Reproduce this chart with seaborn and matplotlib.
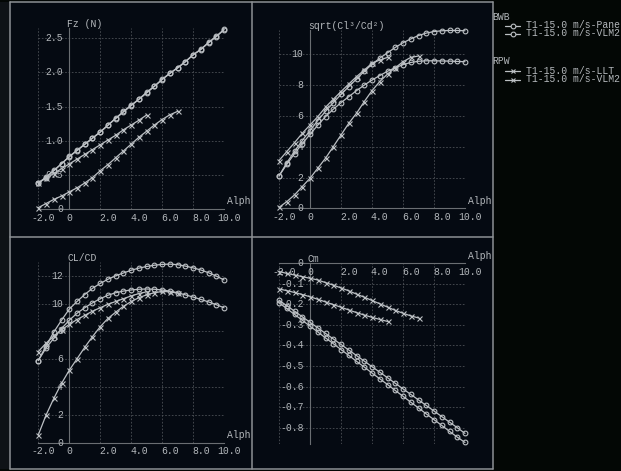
import numpy as np
import pandas as pd
import matplotlib
matplotlib.use('Agg')
import matplotlib.pyplot as plt
from matplotlib.lines import Line2D
from matplotlib.patches import Rectangle
from matplotlib.transforms import Bbox, TransformedBbox
import seaborn as sns

# angulos de ataque
alpha_bwb = [-2.0, -1.5, -1.0, -0.5, 0.0, 0.5, 1.0, 1.5, 2.0, 2.5, 3.0, 3.5, 4.0,
             4.5, 5.0, 5.5, 6.0, 6.5, 7.0, 7.5, 8.0, 8.5, 9.0, 9.5, 10.0]
alpha_llt = [-2.0, -1.5, -1.0, -0.5, 0.0, 0.5, 1.0, 1.5, 2.0, 2.5, 3.0, 3.5, 4.0,
             4.5, 5.0]
alpha_vlm = [-2.0, -1.5, -1.0, -0.5, 0.0, 0.5, 1.0, 1.5, 2.0, 2.5, 3.0, 3.5, 4.0,
             4.5, 5.0, 5.5, 6.0, 6.5, 7.0]

# Fz (N)
fz_panel = [0.385, 0.46, 0.56, 0.66, 0.77, 0.86, 0.95, 1.04, 1.13, 1.23, 1.33, 1.43, 1.52,
            1.61, 1.71, 1.80, 1.90, 1.99, 2.07, 2.16, 2.26, 2.34, 2.44, 2.53, 2.63]
fz_vlm_bwb = [0.375, 0.47, 0.565, 0.665, 0.765, 0.855, 0.945, 1.035, 1.125, 1.225, 1.325, 1.42, 1.515,
              1.605, 1.70, 1.795, 1.895, 1.985, 2.065, 2.155, 2.255, 2.335, 2.435, 2.525, 2.625]
fz_llt = [0.385, 0.45, 0.52, 0.59, 0.66, 0.73, 0.80, 0.87, 0.94, 1.01, 1.08, 1.16, 1.23,
          1.30, 1.377]
fz_vlm_rpw = [0.02, 0.08, 0.14, 0.19, 0.25, 0.31, 0.38, 0.46, 0.56, 0.65, 0.75, 0.85, 0.95,
              1.05, 1.14, 1.23, 1.31, 1.38, 1.43]

# sqrt(Cl^3/Cd^2)
sq_panel = [2.1, 2.95, 3.7, 4.4, 5.05, 5.7, 6.3, 6.85, 7.4, 7.9, 8.4, 8.9, 9.35,
            9.75, 10.1, 10.45, 10.75, 11.0, 11.22, 11.38, 11.48, 11.53, 11.55, 11.55, 11.53]
sq_vlm_bwb = [2.1, 2.85, 3.55, 4.2, 4.8, 5.4, 5.95, 6.43, 6.86, 7.25, 7.64, 8.0, 8.33,
              8.62, 8.9, 9.13, 9.33, 9.47, 9.55, 9.58, 9.58, 9.57, 9.56, 9.54, 9.52]
sq_llt = [3.1, 3.68, 4.26, 4.87, 5.41, 5.95, 6.56, 7.08, 7.58, 8.07, 8.55, 8.98, 9.42,
          9.63, 9.8]
sq_vlm_rpw = [0.06, 0.43, 0.87, 1.41, 1.95, 2.6, 3.25, 4.0, 4.76, 5.52, 6.17, 6.93, 7.64,
              8.23, 8.72, 9.13, 9.52, 9.8, 9.89]

# CL/CD
cd_panel = [5.9, 6.95, 7.95, 8.8, 9.6, 10.15, 10.65, 11.1, 11.45, 11.75, 12.0, 12.2, 12.4,
            12.55, 12.67, 12.76, 12.82, 12.84, 12.8, 12.7, 12.57, 12.42, 12.22, 11.98, 11.7]
cd_vlm_bwb = [5.9, 6.8, 7.5, 8.2, 8.8, 9.3, 9.7, 10.05, 10.35, 10.6, 10.78, 10.9, 10.98,
              11.03, 11.05, 11.03, 10.98, 10.9, 10.78, 10.63, 10.47, 10.3, 10.12, 9.92, 9.7]
cd_llt = [6.55, 7.15, 7.65, 8.1, 8.5, 8.85, 9.15, 9.45, 9.7, 9.95, 10.15, 10.35, 10.55,
          10.72, 10.85]
cd_vlm_rpw = [0.55, 1.97, 3.17, 4.25, 5.2, 6.02, 6.85, 7.62, 8.33, 8.93, 9.38, 9.8, 10.15,
              10.42, 10.63, 10.78, 10.87, 10.85, 10.75]

# Cm
cm_panel = [-0.180, -0.206, -0.233, -0.260, -0.287, -0.314, -0.341, -0.368, -0.395, -0.422,
            -0.449, -0.476, -0.503, -0.530, -0.557, -0.584, -0.611, -0.638, -0.665, -0.692,
            -0.719, -0.746, -0.773, -0.800, -0.828]
cm_vlm_bwb = [-0.192, -0.220, -0.249, -0.277, -0.306, -0.334, -0.363, -0.391, -0.420, -0.448,
              -0.477, -0.505, -0.534, -0.562, -0.590, -0.619, -0.647, -0.676, -0.704, -0.733,
              -0.761, -0.789, -0.818, -0.846, -0.872]
cm_llt = [-0.125, -0.133, -0.142, -0.152, -0.163, -0.175, -0.188, -0.201, -0.214, -0.227,
          -0.240, -0.252, -0.263, -0.273, -0.283]
cm_vlm_rpw = [-0.040, -0.049, -0.057, -0.065, -0.073, -0.081, -0.094, -0.106, -0.120, -0.134,
              -0.150, -0.165, -0.181, -0.197, -0.213, -0.229, -0.243, -0.256, -0.266]

x_ticks = [-2, 0, 2, 4, 6, 8, 10]
x_labels = ['-2.0', '0', '2.0', '4.0', '6.0', '8.0', '10.0']

W, H = 621, 471
fundo = '#030705'
fundo_painel = '#050a12'
cor_borda = '#8c9094'
cor_linha = '#bcc0c4'
cor_texto = '#b4b8bc'

sns.set_style('dark')
plt.rcParams['font.family'] = ['Liberation Mono', 'DejaVu Sans Mono']
plt.rcParams['font.size'] = 7


def fx(px):
    return px / W


def fy(py):
    return 1 - py / H


fig = plt.figure(figsize=(W / 100, H / 100), dpi=100, facecolor=fundo)

# fundo dos paineis e bordas
fig.add_artist(Rectangle((0, fy(469)), fx(10), fy(2) - fy(469), transform=fig.transFigure,
                         facecolor='#0e1216', edgecolor='none', zorder=0))
fig.add_artist(Rectangle((fx(10), fy(469)), fx(493) - fx(10), fy(2) - fy(469),
                         transform=fig.transFigure, facecolor=fundo_painel, edgecolor='none', zorder=0))
for px in [10, 252, 493]:
    fig.add_artist(Line2D([fx(px), fx(px)], [fy(2), fy(469)], transform=fig.transFigure,
                          color=cor_borda, lw=1.1, zorder=1))
for py in [2, 237, 469]:
    fig.add_artist(Line2D([fx(10), fx(493)], [fy(py), fy(py)], transform=fig.transFigure,
                          color=cor_borda, lw=1.1, zorder=1))

series_nomes = ['BWB-Panel', 'BWB-VLM2', 'RPW-LLT', 'RPW-VLM2']
marcadores = {'BWB-Panel': 'o', 'BWB-VLM2': 'o', 'RPW-LLT': 'x', 'RPW-VLM2': 'x'}
alphas = {'BWB-Panel': alpha_bwb, 'BWB-VLM2': alpha_bwb, 'RPW-LLT': alpha_llt, 'RPW-VLM2': alpha_vlm}

paineis = [
    # titulo, dados, ylim, yticks, ylabels, rect em pixels (x0, x1, y_top, y_bottom), caixa do painel
    ('Fz (N)', [fz_panel, fz_vlm_bwb, fz_llt, fz_vlm_rpw], (0, 2.65),
     [0, 0.5, 1.0, 1.5, 2.0, 2.5], ['0', '0.5', '1.0', '1.5', '2.0', '2.5'],
     (38.3, 224.0, 28.1, 209.0), (10, 252, 2, 237)),
    ('sqrt(Cl³/Cd²)', [sq_panel, sq_vlm_bwb, sq_llt, sq_vlm_rpw], (0, 11.6),
     [0, 2, 4, 6, 8, 10], ['0', '2', '4', '6', '8', '10'],
     (279.0, 465.0, 29.7, 208.3), (252, 493, 2, 237)),
    ('CL/CD', [cd_panel, cd_vlm_bwb, cd_llt, cd_vlm_rpw], (0, 13.0),
     [0, 2, 4, 6, 8, 10, 12], ['0', '2', '4', '6', '8', '10', '12'],
     (38.3, 224.0, 261.9, 442.5), (10, 252, 237, 469)),
    ('Cm', [cm_panel, cm_vlm_bwb, cm_llt, cm_vlm_rpw], (-0.88, 0),
     [0, -0.1, -0.2, -0.3, -0.4, -0.5, -0.6, -0.7, -0.8],
     ['0', '-0.1', '-0.2', '-0.3', '-0.4', '-0.5', '-0.6', '-0.7', '-0.8'],
     (279.0, 465.0, 263.3, 444.1), (252, 493, 237, 469)),
]

for titulo, dados, ylim, yticks, ylabels, r, caixa in paineis:
    x0, x1, yt, yb = r
    ax = fig.add_axes([fx(x0), fy(yb), fx(x1) - fx(x0), fy(yt) - fy(yb)])
    ax.set_facecolor('none')

    for nome, valores in zip(series_nomes, dados):
        df = pd.DataFrame({'alpha': alphas[nome], 'valor': valores})
        m = marcadores[nome]
        sns.lineplot(data=df, x='alpha', y='valor', ax=ax, color=cor_linha, lw=0.9,
                     marker=m, markersize=3.4 if m == 'o' else 3.6,
                     markerfacecolor='none', markeredgecolor=cor_linha,
                     markeredgewidth=0.8, clip_on=False, zorder=3)

    ax.set_xlim(-2, 10)
    ax.set_ylim(*ylim)
    ax.set_xticks(x_ticks)
    ax.set_yticks(yticks)
    ax.set_xlabel('')
    ax.set_ylabel('')
    ax.tick_params(length=0, labelbottom=False, labelleft=False)
    ax.grid(True, color='#4c5056', linestyle=(0, (2, 2)), lw=0.6)
    for s in ['top', 'right']:
        ax.spines[s].set_visible(False)
    ax.spines['left'].set_position(('data', 0))
    ax.spines['bottom'].set_position(('data', 0))
    for s in ['left', 'bottom']:
        ax.spines[s].set_color('#6a6e72')
        ax.spines[s].set_linewidth(0.8)
        ax.spines[s].set_zorder(2)

    # rotulos dos ticks no estilo do xflr5
    for v, s in zip(x_ticks, x_labels):
        if s == '0':
            ax.annotate(s, (v, 0), xytext=(0, -9), textcoords='offset pixels',
                        ha='center', va='center', color=cor_texto)
        else:
            ax.annotate(s, (v, 0), xytext=(16.5, -9), textcoords='offset pixels',
                        ha='right', va='center', color=cor_texto)
    for v, s in zip(yticks, ylabels):
        ax.annotate(s, (0, v), xytext=(-6.5, 0), textcoords='offset pixels',
                    ha='right', va='center', color=cor_texto)

    ax.annotate(titulo, (0, ylim[1]), xytext=(-2, 4), textcoords='offset pixels',
                ha='left', va='center', color=cor_texto)
    t = ax.annotate('Alpha', (10, 0), xytext=(3, 7.5), textcoords='offset pixels',
                    ha='left', va='center', color=cor_texto)
    cx0, cx1, cy0, cy1 = caixa
    t.set_clip_on(True)
    t.set_clip_box(TransformedBbox(Bbox.from_extents(fx(cx0), fy(cy1), fx(cx1) - 0.002, fy(cy0)),
                                   fig.transFigure))

# legenda desenhada a mao
grupos = [('BWB', 17, [('T1-15.0 m/s-Panel', 'o', 25.5), ('T1-15.0 m/s-VLM2', 'o', 33.5)]),
          ('RPW', 61.5, [('T1-15.0 m/s-LLT', 'x', 70.5), ('T1-15.0 m/s-VLM2', 'x', 79.5)])]
for grupo, yg, itens in grupos:
    fig.text(fx(492), fy(yg), grupo, ha='left', va='center', color=cor_texto, fontsize=7)
    for rotulo, m, yi in itens:
        fig.add_artist(Line2D([fx(505), fx(520)], [fy(yi), fy(yi)], transform=fig.transFigure,
                              color=cor_linha, lw=0.9))
        fig.add_artist(Line2D([fx(512.5)], [fy(yi)], transform=fig.transFigure, marker=m,
                              markersize=3.4, markerfacecolor=fundo, markeredgecolor=cor_linha,
                              markeredgewidth=0.8, lw=0))
        fig.text(fx(526), fy(yi), rotulo, ha='left', va='center', color=cor_texto, fontsize=7)

fig.savefig('out.png', dpi=100, facecolor=fundo)
